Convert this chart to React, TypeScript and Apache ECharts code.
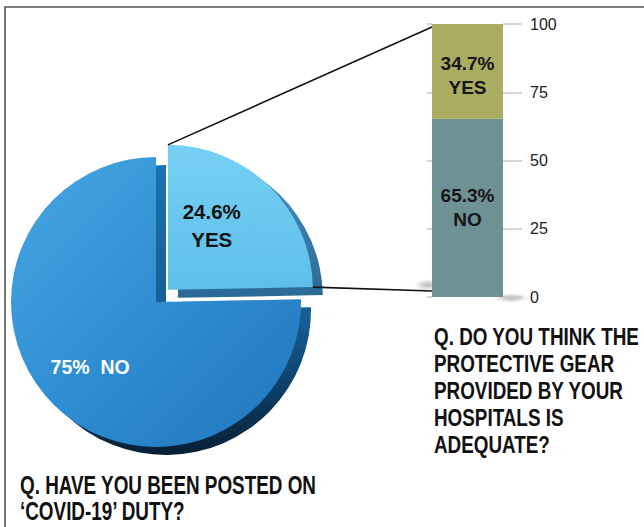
import React, { useEffect, useRef } from 'react';
import * as echarts from 'echarts';

// ---- data ----
const pieCategories = ['YES', 'NO'];
const pieValues = [24.6, 75];
const barCategories = ['NO', 'YES'];
const barValues = [65.3, 34.7];
const axisMin = 0;
const axisMax = 100;
const axisInterval = 25;
const leftTitle = ['Q. HAVE YOU BEEN POSTED ON', '‘COVID-19’ DUTY?'];
const rightTitle = ['Q. DO YOU THINK THE', 'PROTECTIVE GEAR', 'PROVIDED BY YOUR', 'HOSPITALS IS', 'ADEQUATE?'];

// ---- layout ----
const W = 644;
const H = 527;
const SANS = '"Liberation Sans", Arial, Helvetica, sans-serif';
const PIE_CX = 156;
const PIE_CY = 302;
const PIE_R = 145;
const EXPLODE = 17;
const DEPTH_DX = 10;
const DEPTH_DY = 8;
const BAR_LEFT = 432;
const BAR_RIGHT = 503;
const BAR_TOP = 24;
const BAR_BOTTOM = 297;

export default function App() {
  const ref = useRef<HTMLDivElement>(null);

  useEffect(() => {
    if (!ref.current) return;
    const chart = echarts.init(ref.current, null, { renderer: 'svg', width: W, height: H });

    const faceColors = [
      new echarts.graphic.LinearGradient(0, 0, 0, 1, [
        { offset: 0, color: '#76d0f3' },
        { offset: 1, color: '#5dbfea' },
      ]),
      new echarts.graphic.LinearGradient(0, 0, 1, 1, [
        { offset: 0, color: '#46a7e3' },
        { offset: 0.5, color: '#2f8ed3' },
        { offset: 1, color: '#2175bc' },
      ]),
    ];
    const depthColors = [
      new echarts.graphic.LinearGradient(0, 0, 0, 1, [
        { offset: 0, color: '#4a93c4' },
        { offset: 1, color: '#2b6995' },
      ]),
      new echarts.graphic.LinearGradient(0, 0, 0, 1, [
        { offset: 0, color: '#1b72b3' },
        { offset: 0.55, color: '#145c93' },
        { offset: 1, color: '#071f36' },
      ]),
    ];

    const pieLabelStyles = [
      { color: '#111', fontSize: 20.5, fontWeight: 'bold', fontFamily: SANS, lineHeight: 28 },
      { color: '#ffffff', fontSize: 19.5, fontWeight: 'bold', fontFamily: SANS, lineHeight: 26 },
    ];

    const makePieData = (colors: any[], withLabel: boolean) =>
      pieCategories.map((name, i) => ({
        name,
        value: pieValues[i],
        selected: name === 'YES',
        itemStyle: { color: colors[i], borderWidth: 0 },
        label: withLabel ? pieLabelStyles[i] : { show: false },
      }));

    const pieCommon = {
      type: 'pie',
      radius: PIE_R,
      startAngle: 90,
      clockwise: true,
      selectedMode: 'single',
      selectedOffset: EXPLODE,
      avoidLabelOverlap: false,
      labelLine: { show: false },
      emphasis: { disabled: true },
      animation: false,
    };

    const option: any = {
      animation: false,
      backgroundColor: '#ffffff',
      grid: {
        left: BAR_LEFT,
        right: W - BAR_RIGHT,
        top: BAR_TOP,
        bottom: H - BAR_BOTTOM,
        containLabel: false,
      },
      xAxis: { type: 'category', data: ['Q'], show: false },
      yAxis: [
        {
          type: 'value',
          position: 'right',
          min: axisMin,
          max: axisMax,
          interval: axisInterval,
          axisLine: { show: false },
          axisTick: { show: true, length: 19, lineStyle: { color: '#c8c8c8', width: 1.5 } },
          axisLabel: { margin: 27, color: '#222', fontSize: 16, fontFamily: SANS },
          splitLine: { show: false },
        },
        {
          type: 'value',
          position: 'left',
          min: axisMin,
          max: axisMax,
          interval: axisInterval,
          axisLine: { show: false },
          axisTick: { show: true, length: 5, lineStyle: { color: '#c8c8c8', width: 1.5 } },
          axisLabel: { show: false },
          splitLine: { show: false },
        },
      ],
      series: [
        {
          ...pieCommon,
          name: 'depth',
          z: 1,
          silent: true,
          center: [PIE_CX + DEPTH_DX, PIE_CY + DEPTH_DY],
          label: { show: false },
          data: makePieData(depthColors, false),
        },
        {
          ...pieCommon,
          name: 'Posted on COVID-19 duty',
          z: 2,
          center: [PIE_CX, PIE_CY],
          label: {
            show: true,
            position: 'inside',
            formatter: (p: any) => (p.name === 'NO' ? `${p.value}%  ${p.name}` : `${p.value}%\n${p.name}`),
          },
          labelLayout: (p: any) => (p.dataIndex === 1 ? { dx: -6.5, dy: 5.5 } : { dx: -9, dy: -10 }),
          data: makePieData(faceColors, true),
        },
        ...barCategories.map((name, i) => ({
          type: 'bar',
          name,
          stack: 'gear',
          yAxisIndex: 0,
          barWidth: '100%',
          z: 3,
          data: [barValues[i]],
          itemStyle: { color: name === 'NO' ? '#6e9195' : '#aaad61' },
          emphasis: { disabled: true },
          label: {
            show: true,
            position: 'inside',
            offset: name === 'YES' ? [0, 4] : [0, 0],
            formatter: (p: any) => `${p.value}%\n${p.seriesName}`,
            color: '#151515',
            fontSize: 19,
            fontWeight: 'bold',
            fontFamily: SANS,
            lineHeight: 24,
          },
        })),
      ],
    };

    chart.setOption(option);

    // connectors from exploded slice to the bar
    const total = pieValues.reduce((a, b) => a + b, 0);
    const yesIdx = pieCategories.indexOf('YES');
    let start = 90;
    for (let i = 0; i < yesIdx; i++) start -= (pieValues[i] / total) * 360;
    const end = start - (pieValues[yesIdx] / total) * 360;
    const mid = ((start + end) / 2) * Math.PI / 180;
    const ex = PIE_CX + EXPLODE * Math.cos(mid);
    const ey = PIE_CY - EXPLODE * Math.sin(mid);
    const sRad = start * Math.PI / 180;
    const eRad = end * Math.PI / 180;
    const p1 = [ex + PIE_R * Math.cos(sRad), ey - PIE_R * Math.sin(sRad)];
    const p2 = [ex + PIE_R * Math.cos(eRad), ey - PIE_R * Math.sin(eRad)];
    const yTop = chart.convertToPixel({ yAxisIndex: 0 }, axisMax) as number;
    const yBot = chart.convertToPixel({ yAxisIndex: 0 }, axisMin) as number;

    const shadowFill = () =>
      new echarts.graphic.RadialGradient(0.5, 0.5, 0.5, [
        { offset: 0, color: 'rgba(0,0,0,0.28)' },
        { offset: 1, color: 'rgba(0,0,0,0)' },
      ]);

    chart.setOption({
      graphic: [
        {
          type: 'ellipse',
          silent: true,
          z: 0,
          shape: { cx: BAR_LEFT - 4, cy: yBot - 12, rx: 14, ry: 6 },
          style: { fill: shadowFill() },
        },
        {
          type: 'ellipse',
          silent: true,
          z: 0,
          shape: { cx: BAR_RIGHT + 8, cy: yBot + 1, rx: 18, ry: 5 },
          style: { fill: shadowFill() },
        },
        {
          type: 'line',
          silent: true,
          z: 50,
          shape: { x1: p1[0], y1: p1[1], x2: BAR_LEFT, y2: yTop + 3 },
          style: { stroke: '#111', lineWidth: 1.6 },
        },
        {
          type: 'line',
          silent: true,
          z: 50,
          shape: { x1: p2[0], y1: p2[1], x2: BAR_LEFT, y2: yBot - 6 },
          style: { stroke: '#111', lineWidth: 1.6 },
        },
        {
          type: 'text',
          silent: true,
          z: 60,
          x: 20,
          y: 473,
          scaleX: 0.755,
          style: {
            text: leftTitle.join('\n'),
            fill: '#111',
            font: `bold 25px ${SANS}`,
            lineHeight: 26,
          },
        },
        {
          type: 'text',
          silent: true,
          z: 60,
          x: 434,
          y: 323,
          scaleX: 0.82,
          style: {
            text: rightTitle.join('\n'),
            fill: '#111',
            font: `bold 23px ${SANS}`,
            lineHeight: 27,
          },
        },
        {
          type: 'rect',
          silent: true,
          z: 100,
          shape: { x: 5, y: 7, width: W + 50, height: H + 50 },
          style: { fill: 'none', stroke: '#555', lineWidth: 1.6 },
        },
      ],
    });

    return () => chart.dispose();
  }, []);

  return (
    <div
      ref={ref}
      style={{ position: 'absolute', left: 0, top: 0, width: W, height: H, background: '#fff' }}
    />
  );
}
